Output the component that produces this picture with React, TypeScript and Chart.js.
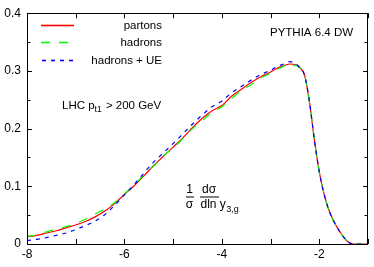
import React, { useEffect, useRef } from "react";
import { Chart, registerables } from "chart.js";

Chart.register(...registerables);

const xValues = [
  -8.0, -7.8, -7.6, -7.4, -7.2, -7.0, -6.8, -6.6, -6.4, -6.2, -6.0, -5.8, -5.6, -5.4, -5.2, -5.0,
  -4.8, -4.6, -4.4, -4.2, -4.0, -3.8, -3.6, -3.4, -3.2, -3.0, -2.9, -2.8, -2.7, -2.6, -2.5, -2.4,
  -2.3, -2.2, -2.1, -2.0, -1.9, -1.8, -1.7, -1.6, -1.5, -1.4, -1.3, -1.2, -1.0,
];
const partons = [
  0.012, 0.015, 0.019, 0.023, 0.028, 0.033, 0.039, 0.047, 0.057, 0.070, 0.086, 0.101, 0.118, 0.136, 0.152, 0.168,
  0.184, 0.202, 0.218, 0.231, 0.240, 0.256, 0.268, 0.280, 0.290, 0.298, 0.303, 0.307, 0.310, 0.312, 0.311, 0.306,
  0.292, 0.245, 0.180, 0.125, 0.086, 0.058, 0.039, 0.024, 0.012, 0.003, 0.0, 0.0, 0.0,
];
const hadrons = [
  0.013, 0.016, 0.021, 0.026, 0.030, 0.036, 0.043, 0.052, 0.061, 0.072, 0.087, 0.102, 0.120, 0.135, 0.153, 0.166,
  0.183, 0.200, 0.214, 0.228, 0.238, 0.252, 0.266, 0.276, 0.288, 0.296, 0.302, 0.305, 0.309, 0.305, 0.310, 0.305,
  0.292, 0.244, 0.181, 0.124, 0.087, 0.058, 0.038, 0.024, 0.012, 0.003, 0.0, 0.0, 0.0,
];
const hadronsUE = [
  0.006, 0.008, 0.011, 0.015, 0.019, 0.025, 0.032, 0.040, 0.051, 0.067, 0.085, 0.103, 0.123, 0.142, 0.158, 0.174,
  0.191, 0.208, 0.224, 0.238, 0.248, 0.262, 0.273, 0.284, 0.294, 0.301, 0.306, 0.310, 0.313, 0.316, 0.313, 0.306,
  0.292, 0.246, 0.180, 0.125, 0.086, 0.058, 0.039, 0.024, 0.012, 0.003, 0.0, 0.0, 0.0,
];
const seriesLabels = ["partons", "hadrons", "hadrons + UE"];
const seriesColors = ["#ff0000", "#00ff00", "#0000ff"];
const seriesDashes: number[][] = [[], [9, 9], [4, 5]];

const FONT = "Liberation Sans, Arial, sans-serif";

const decorPlugin = {
  id: "decor",
  afterDatasetsDraw(chart: any) {
    const ctx = chart.ctx as CanvasRenderingContext2D;
    const { left, right, top, bottom } = chart.chartArea;
    const xs = chart.scales.x;
    const ys = chart.scales.y;
    ctx.save();
    ctx.strokeStyle = "#000";
    ctx.lineWidth = 1;
    ctx.setLineDash([]);
    ctx.strokeRect(Math.round(left) + 0.5, Math.round(top) + 0.5, Math.round(right - left) - 1, Math.round(bottom - top));
    ctx.beginPath();
    xs.ticks.forEach((t: any) => {
      const px = Math.round(xs.getPixelForValue(t.value)) + 0.5;
      ctx.moveTo(px, bottom);
      ctx.lineTo(px, bottom - 5);
      ctx.moveTo(px, top);
      ctx.lineTo(px, top + 5);
    });
    ys.ticks.forEach((t: any) => {
      const major = t.label !== "";
      const len = major ? 5 : 3.5;
      const py = Math.round(ys.getPixelForValue(t.value)) + 0.5;
      ctx.moveTo(left, py);
      ctx.lineTo(left + len, py);
      ctx.moveTo(right, py);
      ctx.lineTo(right - len, py);
    });
    ctx.stroke();
    ctx.restore();
  },
  afterDraw(chart: any) {
    const ctx = chart.ctx as CanvasRenderingContext2D;
    ctx.save();
    ctx.textBaseline = "middle";
    ctx.font = `11.5px ${FONT}`;
    const rows = [25, 42, 60];
    const x0 = 41;
    const x1 = 74;
    seriesLabels.forEach((lab, i) => {
      ctx.fillStyle = seriesColors[i];
      const dash = seriesDashes[i];
      if (dash.length === 0) {
        ctx.fillRect(x0, rows[i] - 0.3, x1 - x0, 1.6);
      } else {
        for (let x = x0 + (i === 2 ? 1 : 0); x < x1; x += dash[0] + dash[1]) {
          ctx.fillRect(x, rows[i] - 0.3, Math.min(dash[0], x1 - x), 1.6);
        }
      }
      ctx.fillStyle = "#000";
      ctx.textAlign = "right";
      ctx.fillText(lab, 162, rows[i] + 0.5);
    });
    ctx.fillStyle = "#000";
    ctx.textAlign = "left";
    ctx.fillText("PYTHIA 6.4 DW", 270, 33);
    ctx.textBaseline = "alphabetic";
    let x = 62;
    const base = 108.5;
    ctx.font = `11.5px ${FONT}`;
    ctx.fillText("LHC p", x, base);
    x += ctx.measureText("LHC p").width;
    ctx.font = `8.5px ${FONT}`;
    ctx.fillText("t1", x, base + 3.5);
    x += ctx.measureText("t1").width + 1;
    ctx.font = `11.5px ${FONT}`;
    ctx.fillText(" > 200 GeV", x, base);
    ctx.font = `12px ${FONT}`;
    ctx.textAlign = "center";
    ctx.fillText("1", 189.5, 193);
    ctx.fillText("\u03c3", 189.5, 208);
    ctx.fillRect(186, 196.5, 8, 1);
    ctx.fillText("d\u03c3", 209, 193);
    ctx.fillRect(200, 196.5, 19, 1);
    ctx.textAlign = "left";
    ctx.fillText("dln y", 200.5, 208);
    const w = ctx.measureText("dln y").width;
    ctx.font = `9px ${FONT}`;
    ctx.fillText("3,g", 200.5 + w + 0.5, 211.5);
    ctx.restore();
  },
};

export default function App() {
  const ref = useRef<HTMLCanvasElement | null>(null);
  useEffect(() => {
    document.body.style.margin = "0";
    const mk = (vals: number[]) => xValues.map((x, i) => ({ x, y: vals[i] }));
    const all = [partons, hadrons, hadronsUE];
    const chart = new Chart(ref.current as HTMLCanvasElement, {
      type: "line",
      data: {
        datasets: all.map((vals, i) => ({
          label: seriesLabels[i],
          data: mk(vals),
          borderColor: seriesColors[i],
          borderWidth: 1.2,
          borderDash: seriesDashes[i],
          pointRadius: 0,
          fill: false,
          cubicInterpolationMode: "monotone" as const,
          order: 3 - i,
        })),
      },
      options: {
        animation: false,
        responsive: false,
        devicePixelRatio: 1,
        layout: { padding: { top: 12, right: 6, left: 0, bottom: 0 } },
        plugins: { legend: { display: false }, tooltip: { enabled: false } },
        scales: {
          x: {
            type: "linear",
            min: -8,
            max: -1,
            grid: { display: false, drawTicks: false },
            border: { display: false },
            ticks: {
              stepSize: 1,
              autoSkip: false,
              maxRotation: 0,
              padding: 3,
              color: "#000",
              font: { family: FONT, size: 12 },
              callback: (v: any) => (Math.round(v) % 2 === 0 ? String(Math.round(v)) : ""),
            },
            afterFit: (s: any) => {
              s.height = 23;
            },
          },
          y: {
            type: "linear",
            min: 0,
            max: 0.4,
            grid: { display: false, drawTicks: false },
            border: { display: false },
            ticks: {
              stepSize: 0.05,
              autoSkip: false,
              padding: 6,
              color: "#000",
              font: { family: FONT, size: 12 },
              callback: (v: any) => {
                const t = v * 10;
                return Math.abs(t - Math.round(t)) < 1e-6 ? String(Math.round(t) / 10) : "";
              },
            },
            afterFit: (s: any) => {
              s.width = 27;
            },
          },
        },
      },
      plugins: [decorPlugin],
    });
    return () => chart.destroy();
  }, []);
  return <canvas ref={ref} width={374} height={267} style={{ display: "block", width: 374, height: 267 }} />;
}
